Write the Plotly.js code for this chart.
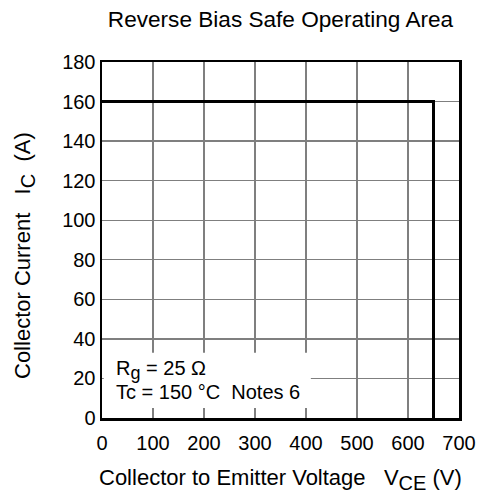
<!DOCTYPE html>
<html><head><meta charset="utf-8">
<script src="https://cdn.plot.ly/plotly-3.0.1.min.js"></script>
<style>html,body{margin:0;padding:0;background:#fff}</style>
</head><body>
<div id="chart" style="width:481px;height:499px"></div>
<script>
const vce = [0, 650, 650];
const ic = [160, 160, 0];
const xTicks = [0, 100, 200, 300, 400, 500, 600, 700];
const yTicks = [0, 20, 40, 60, 80, 100, 120, 140, 160, 180];
const FAM = 'Liberation Sans, Arial, sans-serif';
const tickFont = {family: FAM, size: 20, color: '#000'};
const titleFont = {family: FAM, size: 22, color: '#000'};
const noteFont = {family: FAM, size: 20, color: '#000'};
Plotly.newPlot('chart', [{
  x: vce, y: ic, mode: 'lines', line: {color: '#000', width: 3}, hoverinfo: 'skip', showlegend: false
}], {
  width: 481, height: 499,
  margin: {l: 102, r: 22, t: 62, b: 81},
  paper_bgcolor: '#fff', plot_bgcolor: '#fff',
  font: tickFont,
  title: {text: 'Reverse Bias Safe Operating Area', font: {family: FAM, size: 22.6, color: '#000'}, xref: 'paper', x: 0.5, xanchor: 'center', yref: 'container', y: 0.962, yanchor: 'middle'},
  xaxis: {range: [0, 700], tickvals: xTicks, ticktext: xTicks.map(String), showgrid: true, gridcolor: '#7f7f7f', gridwidth: 1.3,
    showline: true, linecolor: '#000', linewidth: 2.5, mirror: true, zeroline: false, ticks: '', ticklen: 0, ticklabelstandoff: 5,
    tickfont: tickFont, automargin: false, fixedrange: true},
  yaxis: {range: [0, 180], tickvals: yTicks, ticktext: yTicks.map(String), showgrid: true, gridcolor: '#7f7f7f', gridwidth: 1.3,
    showline: true, linecolor: '#000', linewidth: 2.5, mirror: true, zeroline: false, ticks: '', ticklen: 0,
    tickfont: tickFont, automargin: false, fixedrange: true},
  shapes: [{type: 'rect', xref: 'paper', yref: 'paper', x0: 0.005, x1: 0.585, y0: 0.028, y1: 0.183,
    fillcolor: '#fff', line: {width: 0}, layer: 'above'}],
  annotations: [
    {xref: 'paper', yref: 'paper', x: 0.5, y: 0, xanchor: 'center', yanchor: 'middle', yshift: -61, showarrow: false,
     text: 'Collector to Emitter Voltage   V<sub><span style="font-size:20px">CE</span></sub> (V)', font: titleFont},
    {xref: 'paper', yref: 'paper', x: 0, y: 0.5, xanchor: 'center', yanchor: 'middle', xshift: -78, yshift: -16, textangle: -90, showarrow: false,
     text: 'Collector Current   I<sub><span style="font-size:20px">C</span></sub>  (A)', font: titleFont},
    {xref: 'paper', yref: 'paper', x: 0, y: 0.135, xanchor: 'left', yanchor: 'middle', xshift: 12, showarrow: false,
     text: 'R<sub><span style="font-size:18px">g</span></sub> = 25 Ω', font: noteFont},
    {xref: 'paper', yref: 'paper', x: 0, y: 0.074, xanchor: 'left', yanchor: 'middle', xshift: 12, showarrow: false,
     text: 'Tc = 150 °C  Notes 6', font: noteFont}
  ]
}, {displayModeBar: false, staticPlot: true});
</script>
</body></html>
